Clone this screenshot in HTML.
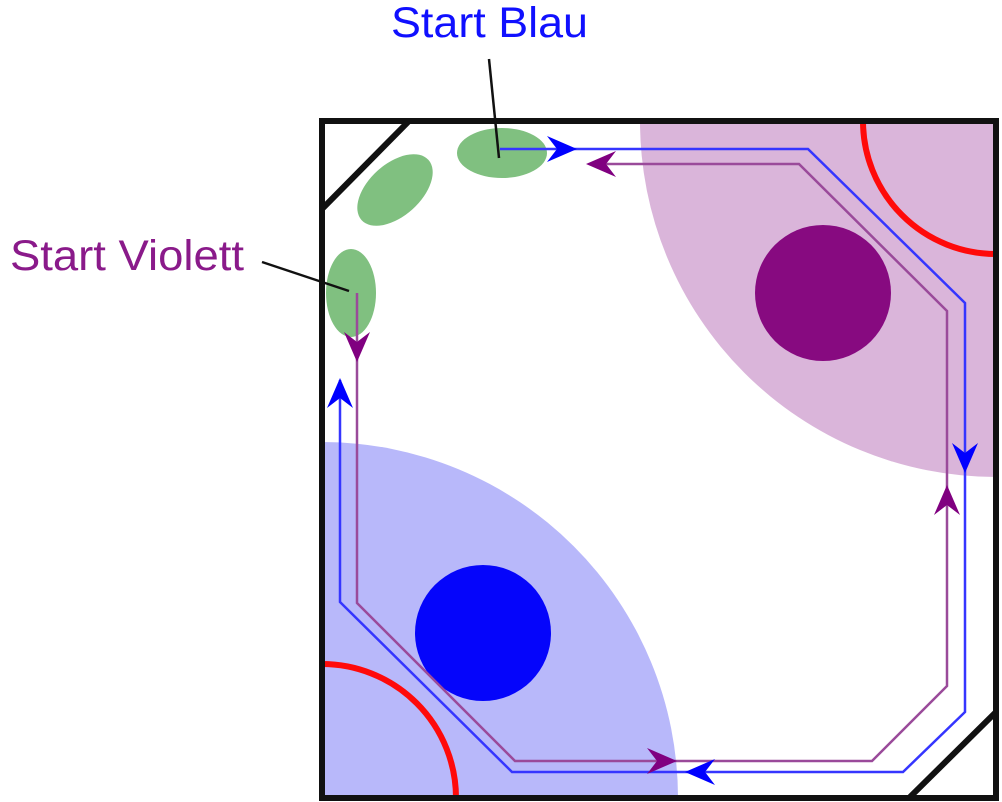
<!DOCTYPE html>
<html><head><meta charset="utf-8"><style>
html,body{margin:0;padding:0;background:#fff;width:1002px;height:802px;overflow:hidden;}
svg{display:block;overflow:hidden;}
text{font-family:"Liberation Sans",Arial,sans-serif;}
</style></head><body>
<svg width="1002" height="802" viewBox="0 0 1002 802" xmlns="http://www.w3.org/2000/svg">
<defs>
<path id="ah" d="M0,0 L-30,-13 L-20,0 L-30,13 Z"/>
</defs>
<path d="M996,121 L640,121 A356,356 0 0 0 996,477 Z" fill="#dab5da"/>
<path d="M322,798 L322,442 A356,356 0 0 1 678,798 Z" fill="#b8b8fa"/>
<path d="M863,121 A133,133 0 0 0 996,254" fill="none" stroke="#ff0a0a" stroke-width="6"/>
<path d="M322,664 A134,134 0 0 1 456,798" fill="none" stroke="#ff0a0a" stroke-width="6"/>
<circle cx="823" cy="293" r="68" fill="#870a80"/>
<circle cx="483" cy="633" r="68" fill="#0505fb"/>
<ellipse cx="502" cy="153" rx="45" ry="25" fill="#80c080"/>
<ellipse cx="395" cy="190" rx="45" ry="26" transform="rotate(-42 395 190)" fill="#80c080"/>
<ellipse cx="351" cy="293" rx="25" ry="44" fill="#80c080"/>
<polyline points="500,149 808,149 965,303 965,712 903,772 512,772 340,602 340,380" fill="none" stroke="#3535ff" stroke-width="2.5"/>
<polyline points="357,293 357,603 515,761 872,761 947,686 947,311 799,164 600,164" fill="none" stroke="#9a4a9a" stroke-width="2.5"/>
<g fill="#0000ff">
<use href="#ah" transform="translate(577,149)"/>
<use href="#ah" transform="translate(965,473) rotate(90)"/>
<use href="#ah" transform="translate(685,772) rotate(180)"/>
<use href="#ah" transform="translate(340,378) rotate(-90)"/>
</g>
<g fill="#800080">
<use href="#ah" transform="translate(586,164) rotate(180)"/>
<use href="#ah" transform="translate(357,362) rotate(90)"/>
<use href="#ah" transform="translate(947,485) rotate(-90)"/>
<use href="#ah" transform="translate(677,761)"/>
</g>
<rect x="322" y="121" width="674" height="677" fill="none" stroke="#111" stroke-width="6"/>
<line x1="408" y1="122" x2="323" y2="208" stroke="#111" stroke-width="6"/>
<line x1="995" y1="713" x2="910" y2="797" stroke="#111" stroke-width="6"/>
<line x1="489" y1="59" x2="499" y2="158" stroke="#111" stroke-width="2.5"/>
<line x1="262" y1="262" x2="349" y2="291" stroke="#111" stroke-width="2.5"/>
<text x="391" y="37" font-size="43" fill="#1010ff" textLength="197" lengthAdjust="spacingAndGlyphs">Start Blau</text>
<text x="10" y="270" font-size="43" fill="#8a1a8a" textLength="234" lengthAdjust="spacingAndGlyphs">Start Violett</text>
</svg>
</body></html>
